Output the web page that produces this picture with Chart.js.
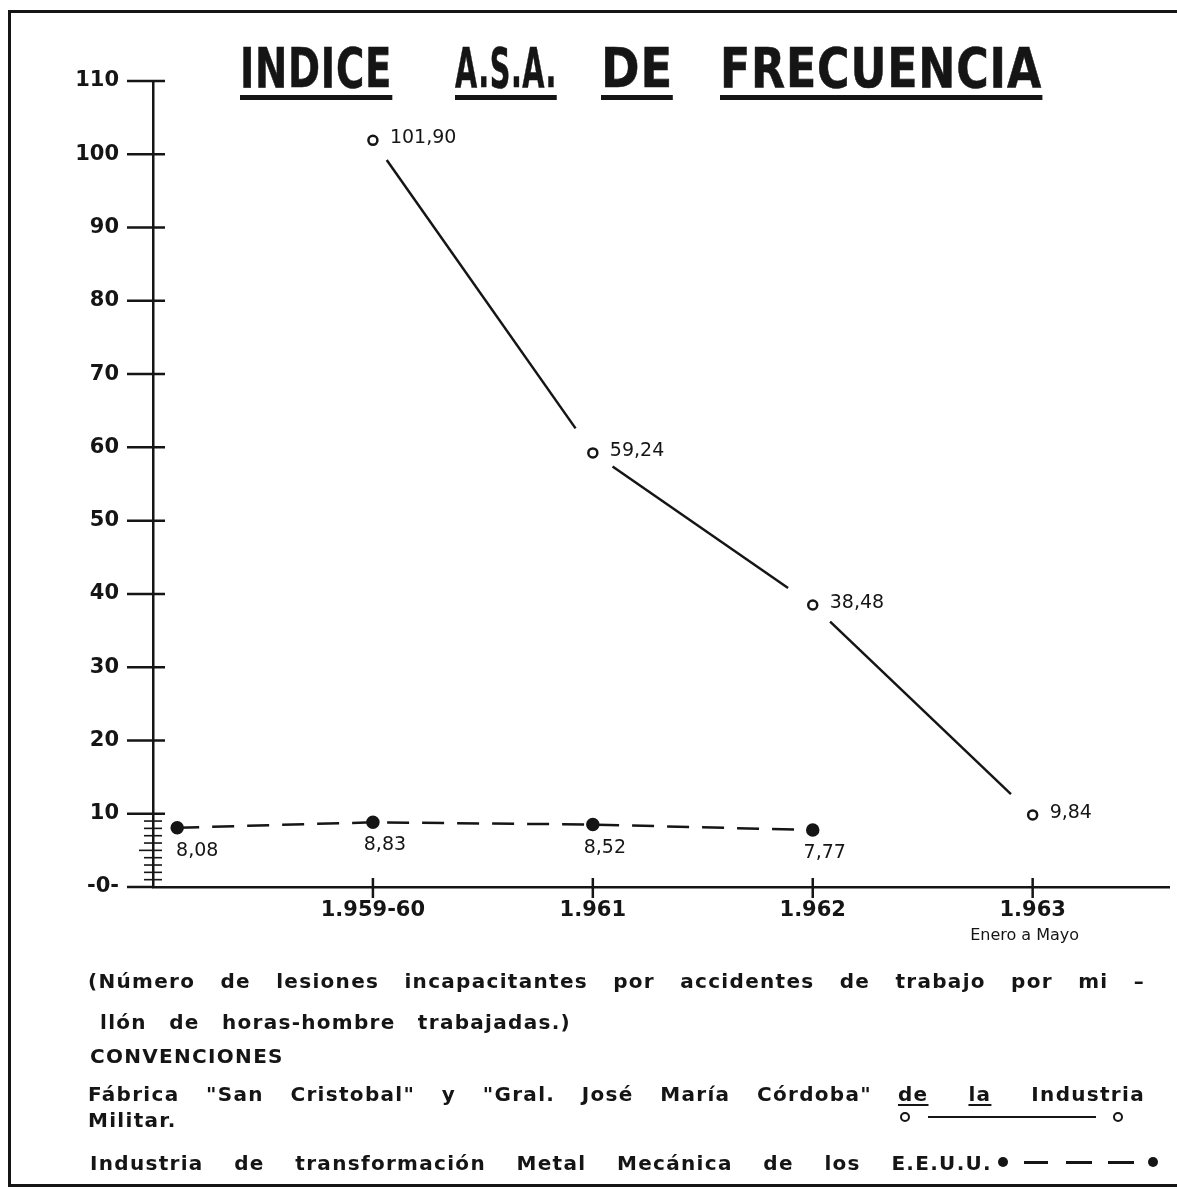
<!DOCTYPE html>
<html>
<head>
<meta charset="utf-8">
<script src="https://cdn.jsdelivr.net/npm/chart.js@4.4.1/dist/chart.umd.min.js"></script>
<style>
html, body { margin: 0; background: #fff; overflow: hidden; }
#wrap { position: relative; width: 1177px; height: 1191px; overflow: hidden; background: #fff;
        font-family: "DejaVu Sans", sans-serif; color: #151515; }
#fl { position: absolute; left: 8px; top: 10px; width: 3px; height: 1177px; background: #151515; }
#ft { position: absolute; left: 8px; top: 10px; width: 1169px; height: 3px; background: #151515; }
#fb { position: absolute; left: 8px; top: 1184px; width: 1169px; height: 3px; background: #151515; }
#chart { position: absolute; left: 0; top: 0; }
.tw { position: absolute; top: 41px; display: inline-block; white-space: nowrap; transform-origin: 0 0;
      font-family: "DejaVu Sans", sans-serif; font-weight: bold; font-size: 55px; line-height: 54px;
      letter-spacing: 1px; -webkit-text-stroke: 0.6px #151515; border-bottom: 5px solid #151515; }
.note { position: absolute; left: 88px; font-weight: bold; font-size: 20px; line-height: 24px;
        white-space: nowrap; letter-spacing: 1.3px; }
.just { text-align: justify; text-align-last: justify; white-space: normal; }
.oc { display: inline-block; width: 6px; height: 6px; border: 2.5px solid #151515; border-radius: 50%; }
.fc { display: inline-block; width: 10px; height: 10px; background: #151515; border-radius: 50%; }
.dl { position: absolute; top: 5px; border-top: 3px solid #151515; }
</style>
</head>
<body>
<div id="wrap">
  <div id="fl"></div><div id="ft"></div><div id="fb"></div>
  <canvas id="chart" width="1177" height="1191"></canvas>

  <div class="tw" data-w="152" style="left:240px">INDICE</div>
  <div class="tw" data-w="102" style="left:455px">A.S.A.</div>
  <div class="tw" data-w="72" style="left:601px">DE</div>
  <div class="tw" data-w="322" style="left:720px">FRECUENCIA</div>

  <div class="note just" style="top:969px; width:1057px">(Número de lesiones incapacitantes por accidentes de trabajo por mi –</div>
  <div class="note" style="top:1010px; left:100px; word-spacing:14px">llón de horas-hombre trabajadas.)</div>
  <div class="note" style="top:1044px; left:90px">CONVENCIONES</div>
  <div class="note just" style="top:1082px; width:784px">Fábrica "San Cristobal" y "Gral. José María Córdoba"</div>
  <div class="note just" style="top:1082px; left:898px; width:247px"><span style="text-decoration:underline; text-decoration-thickness:2px; text-underline-offset:3px">de</span> <span style="text-decoration:underline; text-decoration-thickness:2px; text-underline-offset:3px">la</span> Industria</div>
  <div class="note" style="top:1108px">Militar.</div>
  <div style="position:absolute; left:900px; top:1111px; width:232px; height:14px;">
    <span class="oc" style="position:absolute; left:0; top:1px"></span>
    <span style="position:absolute; left:28px; top:5px; width:168px; border-top:2.5px solid #151515"></span>
    <span class="oc" style="position:absolute; left:213px; top:1px"></span>
  </div>
  <div class="note just" style="top:1151px; left:90px; width:902px">Industria de transformación Metal Mecánica de los E.E.U.U.</div>
  <div style="position:absolute; left:998px; top:1156px; width:165px; height:14px;">
    <span class="fc" style="position:absolute; left:0; top:1px"></span>
    <span class="dl" style="left:26px; width:24px"></span>
    <span class="dl" style="left:68px; width:26px"></span>
    <span class="dl" style="left:110px; width:26px"></span>
    <span class="fc" style="position:absolute; left:150px; top:1px"></span>
  </div>
</div>

<script>
const ink = '#151515';

// x axis: year positions and their labels
const yearPos = [1, 2, 3, 4];
const yearLabels = ['1.959-60', '1.961', '1.962', '1.963'];
const yearNote = 'Enero a Mayo';

// y axis ticks
const yTicks = [0, 10, 20, 30, 40, 50, 60, 70, 80, 90, 100, 110];

// Fabrica "San Cristobal" y "Gral. Jose Maria Cordoba" (Industria Militar)
const militarX = [1, 2, 3, 4];
const militarValues = [101.90, 59.24, 38.48, 9.84];

// Industria de transformacion Metal Mecanica de los E.E.U.U.
const eeuuX = [0.11, 1, 2, 3];
const eeuuValues = [8.08, 8.83, 8.52, 7.77];

const fmt = v => v.toFixed(2).replace('.', ',');

// squeeze title words to the lettering width
document.querySelectorAll('.tw').forEach(el => {
    const w = el.getBoundingClientRect().width;
    el.style.transform = 'scaleX(' + (Number(el.dataset.w) / w) + ')';
});

function seg(ctx, x1, y1, x2, y2) {
    ctx.beginPath();
    ctx.moveTo(x1, y1);
    ctx.lineTo(x2, y2);
    ctx.stroke();
}

// hand-drawn look: axis ticks, solid line with gaps at the points, value labels
const decor = {
    id: 'decor',
    beforeDatasetsDraw(chart) {
        const { ctx } = chart;
        const pts = chart.getDatasetMeta(0).data;
        ctx.save();
        ctx.strokeStyle = ink;
        ctx.lineWidth = 2.5;
        for (let i = 0; i < pts.length - 1; i++) {
            const a = pts[i], b = pts[i + 1];
            const dx = b.x - a.x, dy = b.y - a.y;
            const len = Math.hypot(dx, dy);
            const ux = dx / len, uy = dy / len;
            seg(ctx, a.x + ux * 24, a.y + uy * 24, b.x - ux * 30, b.y - uy * 30);
        }
        ctx.restore();
    },
    afterDraw(chart) {
        const { ctx, scales: { x, y } } = chart;
        const ax = x.left;
        ctx.save();
        ctx.strokeStyle = ink;
        ctx.lineWidth = 2.5;
        yTicks.forEach(v => {
            const py = y.getPixelForValue(v);
            seg(ctx, ax - 26, py, v === 0 ? ax : ax + 12, py);
        });
        ctx.lineWidth = 1.6;
        for (let v = 1; v < 10; v++) {
            const py = y.getPixelForValue(v);
            seg(ctx, ax - (v === 5 ? 14 : 9), py, ax + 9, py);
        }
        ctx.lineWidth = 2.5;
        yearPos.forEach(v => {
            const px = x.getPixelForValue(v);
            seg(ctx, px, y.bottom - 9, px, y.bottom + 11);
        });

        ctx.fillStyle = ink;
        ctx.font = '16px "DejaVu Sans", sans-serif';
        ctx.textAlign = 'center';
        ctx.textBaseline = 'middle';
        ctx.fillText(yearNote, x.getPixelForValue(yearPos[3]) - 8, y.bottom + 49);

        ctx.font = '19px "DejaVu Sans", sans-serif';
        ctx.textAlign = 'left';
        chart.getDatasetMeta(0).data.forEach((p, i) => {
            ctx.fillText(fmt(militarValues[i]), p.x + 17, p.y - 2);
        });
        ctx.textAlign = 'center';
        chart.getDatasetMeta(1).data.forEach((p, i) => {
            ctx.fillText(fmt(eeuuValues[i]), p.x + (i === 0 ? 20 : 12), p.y + 23);
        });
        ctx.restore();
    }
};

new Chart(document.getElementById('chart'), {
    type: 'line',
    data: {
        datasets: [{
            label: 'Industria Militar',
            data: militarX.map((v, i) => ({ x: v, y: militarValues[i] })),
            showLine: false,
            pointStyle: 'circle',
            pointRadius: 4.5,
            pointBackgroundColor: '#fff',
            pointBorderColor: ink,
            pointBorderWidth: 2.5
        }, {
            label: 'Metal Mecánica E.E.U.U.',
            data: eeuuX.map((v, i) => ({ x: v, y: eeuuValues[i] })),
            borderColor: ink,
            borderWidth: 2.5,
            borderDash: [22, 13],
            pointStyle: 'circle',
            pointRadius: 5.5,
            pointBackgroundColor: ink,
            pointBorderColor: ink
        }]
    },
    options: {
        responsive: false,
        animation: false,
        devicePixelRatio: 1,
        layout: { padding: { top: 81, left: 10, right: 0, bottom: 0 } },
        plugins: { legend: { display: false }, tooltip: { enabled: false }, title: { display: false } },
        scales: {
            x: {
                type: 'linear',
                min: 0,
                max: 4.62,
                afterFit: s => { s.height = 304; },
                afterBuildTicks: s => { s.ticks = yearPos.map(v => ({ value: v })); },
                grid: { display: false, drawTicks: false },
                border: { display: true, color: ink, width: 2.5 },
                ticks: {
                    padding: 11,
                    color: ink,
                    maxRotation: 0,
                    font: { family: '"DejaVu Sans", sans-serif', size: 21, weight: 'bold' },
                    callback: v => yearLabels[yearPos.indexOf(v)]
                }
            },
            y: {
                min: 0,
                max: 110,
                afterFit: s => { s.width = 143; },
                afterBuildTicks: s => { s.ticks = yTicks.map(v => ({ value: v })); },
                grid: { display: false, drawTicks: false },
                border: { display: true, color: ink, width: 2.5 },
                ticks: {
                    padding: 34,
                    color: ink,
                    font: { family: '"DejaVu Sans", sans-serif', size: 21, weight: 'bold' },
                    callback: v => (v === 0 ? '-0-' : String(v))
                }
            }
        }
    },
    plugins: [decor]
});
</script>
</body>
</html>
